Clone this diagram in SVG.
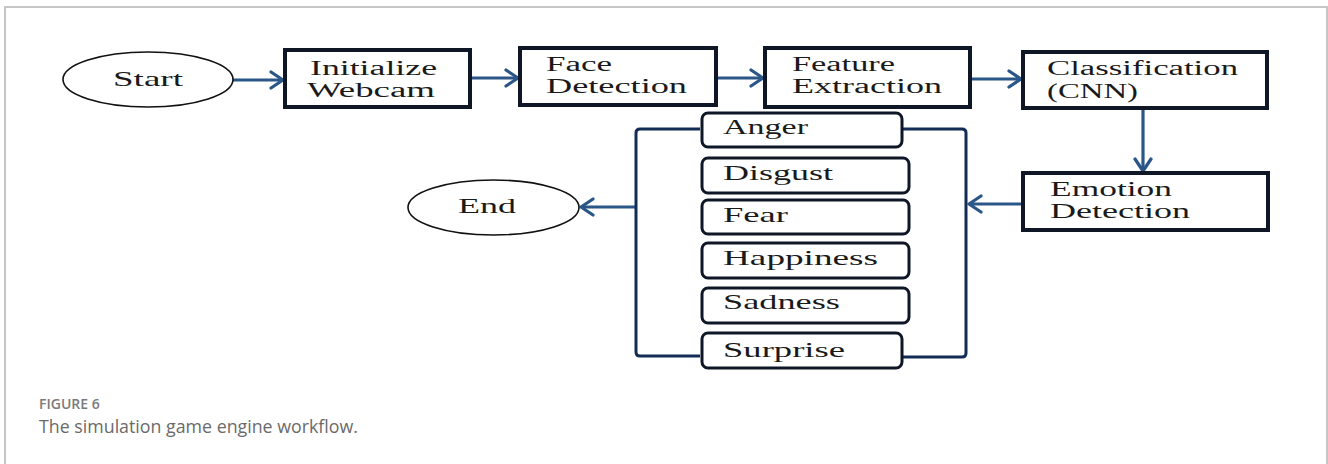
<svg xmlns="http://www.w3.org/2000/svg" width="1328" height="464" viewBox="0 0 1328 464">
  <style>
    .frame { fill: none; stroke: #c6c6c6; stroke-width: 2; }
    .box { fill: #ffffff; stroke: #0f1626; stroke-width: 4; }
    .opt { fill: #ffffff; stroke: #0f1626; stroke-width: 3; }
    .term { fill: #ffffff; stroke: #111111; stroke-width: 1.6; }
    .lbl { font-family: "Liberation Serif", "DejaVu Serif", serif; font-size: 21px; fill: #1a1a1a; }
    .lbl2 { font-family: "Liberation Serif", "DejaVu Serif", serif; font-size: 20px; fill: #1a1a1a; }
    .flow { fill: none; stroke: #2a5688; stroke-width: 3.2; }
    .brace { fill: none; stroke: #132c55; stroke-width: 3; }
    .cap-head { font-family: "Open Sans", "Liberation Sans", sans-serif; font-size: 14px; font-weight: 600; fill: #7a7a7a; }
    .cap-text { font-family: "Open Sans", "Liberation Sans", sans-serif; font-size: 17.8px; fill: #6a6a6a; }
  </style>
  <defs>
    <marker id="chev" viewBox="0 0 16 20" refX="14" refY="10" markerWidth="16" markerHeight="20" markerUnits="userSpaceOnUse" orient="auto">
      <path d="M2,2 L14,10 L2,18" fill="none" stroke="#2a5688" stroke-width="3.2" stroke-linecap="round" stroke-linejoin="round"/>
    </marker>
  </defs>

  <rect width="1328" height="464" fill="#ffffff"/>
  <path class="frame" d="M5,464 V7 H1327 V464"/>

  <!-- flow connectors -->
  <g id="connectors">
    <path class="flow" d="M233,80 H283" marker-end="url(#chev)"/>
    <path class="flow" d="M470,78 H518" marker-end="url(#chev)"/>
    <path class="flow" d="M716,78 H763" marker-end="url(#chev)"/>
    <path class="flow" d="M970,79 H1021" marker-end="url(#chev)"/>
    <path class="flow" d="M1143,108 V171" marker-end="url(#chev)"/>
    <path class="flow" d="M1023,204 H969" marker-end="url(#chev)"/>
    <path class="flow" d="M635,207 H581" marker-end="url(#chev)"/>
    <path class="brace" d="M902,129 H962 Q966,129 966,133 V353 Q966,357 962,357 H902"/>
    <path class="brace" d="M700,129 H640 Q636,129 636,133 V352 Q636,356 640,356 H700"/>
  </g>

  <g id="start">
    <ellipse class="term" cx="148" cy="79.5" rx="85" ry="27.5"/>
    <text class="lbl" x="113" y="86" textLength="70" lengthAdjust="spacingAndGlyphs">Start</text>
  </g>

  <g id="init-webcam">
    <rect class="box" x="285" y="50" width="185" height="57"/>
    <text class="lbl2" x="310" y="75" textLength="127" lengthAdjust="spacingAndGlyphs">Initialize</text>
    <text class="lbl2" x="307" y="97" textLength="128" lengthAdjust="spacingAndGlyphs">Webcam</text>
  </g>

  <g id="face-detection">
    <rect class="box" x="520" y="48" width="196" height="57"/>
    <text class="lbl2" x="546" y="71" textLength="66" lengthAdjust="spacingAndGlyphs">Face</text>
    <text class="lbl2" x="546" y="93" textLength="141" lengthAdjust="spacingAndGlyphs">Detection</text>
  </g>

  <g id="feature-extraction">
    <rect class="box" x="765" y="48" width="205" height="59"/>
    <text class="lbl2" x="792" y="71" textLength="103" lengthAdjust="spacingAndGlyphs">Feature</text>
    <text class="lbl2" x="792" y="93" textLength="150" lengthAdjust="spacingAndGlyphs">Extraction</text>
  </g>

  <g id="classification">
    <rect class="box" x="1023" y="52" width="244" height="56"/>
    <text class="lbl2" x="1047" y="75" textLength="191" lengthAdjust="spacingAndGlyphs">Classification</text>
    <text class="lbl2" x="1047" y="98" textLength="91" lengthAdjust="spacingAndGlyphs">(CNN)</text>
  </g>

  <g id="emotion-detection">
    <rect class="box" x="1023" y="173" width="245" height="57"/>
    <text class="lbl2" x="1050" y="196" textLength="122" lengthAdjust="spacingAndGlyphs">Emotion</text>
    <text class="lbl2" x="1050" y="218" textLength="140" lengthAdjust="spacingAndGlyphs">Detection</text>
  </g>

  <g id="anger">
    <rect class="opt" x="702" y="113" width="200" height="34" rx="6"/>
    <text class="lbl" x="723" y="134" textLength="85" lengthAdjust="spacingAndGlyphs">Anger</text>
  </g>
  <g id="disgust">
    <rect class="opt" x="702" y="158" width="207" height="35" rx="6"/>
    <text class="lbl" x="723" y="180" textLength="110" lengthAdjust="spacingAndGlyphs">Disgust</text>
  </g>
  <g id="fear">
    <rect class="opt" x="702" y="200" width="207" height="34" rx="6"/>
    <text class="lbl" x="723" y="222" textLength="65" lengthAdjust="spacingAndGlyphs">Fear</text>
  </g>
  <g id="happiness">
    <rect class="opt" x="702" y="243" width="207" height="35" rx="6"/>
    <text class="lbl" x="723" y="265" textLength="155" lengthAdjust="spacingAndGlyphs">Happiness</text>
  </g>
  <g id="sadness">
    <rect class="opt" x="702" y="288" width="207" height="35" rx="6"/>
    <text class="lbl" x="723" y="309" textLength="117" lengthAdjust="spacingAndGlyphs">Sadness</text>
  </g>
  <g id="surprise">
    <rect class="opt" x="702" y="333" width="200" height="35" rx="6"/>
    <text class="lbl" x="723" y="357" textLength="122" lengthAdjust="spacingAndGlyphs">Surprise</text>
  </g>

  <g id="end">
    <ellipse class="term" cx="493.5" cy="207.5" rx="85.5" ry="27.5"/>
    <text class="lbl" x="458" y="213" textLength="58" lengthAdjust="spacingAndGlyphs">End</text>
  </g>

  <g id="caption">
    <text class="cap-head" x="39" y="409">FIGURE 6</text>
    <text class="cap-text" x="39" y="433">The simulation game engine workflow.</text>
  </g>
</svg>
